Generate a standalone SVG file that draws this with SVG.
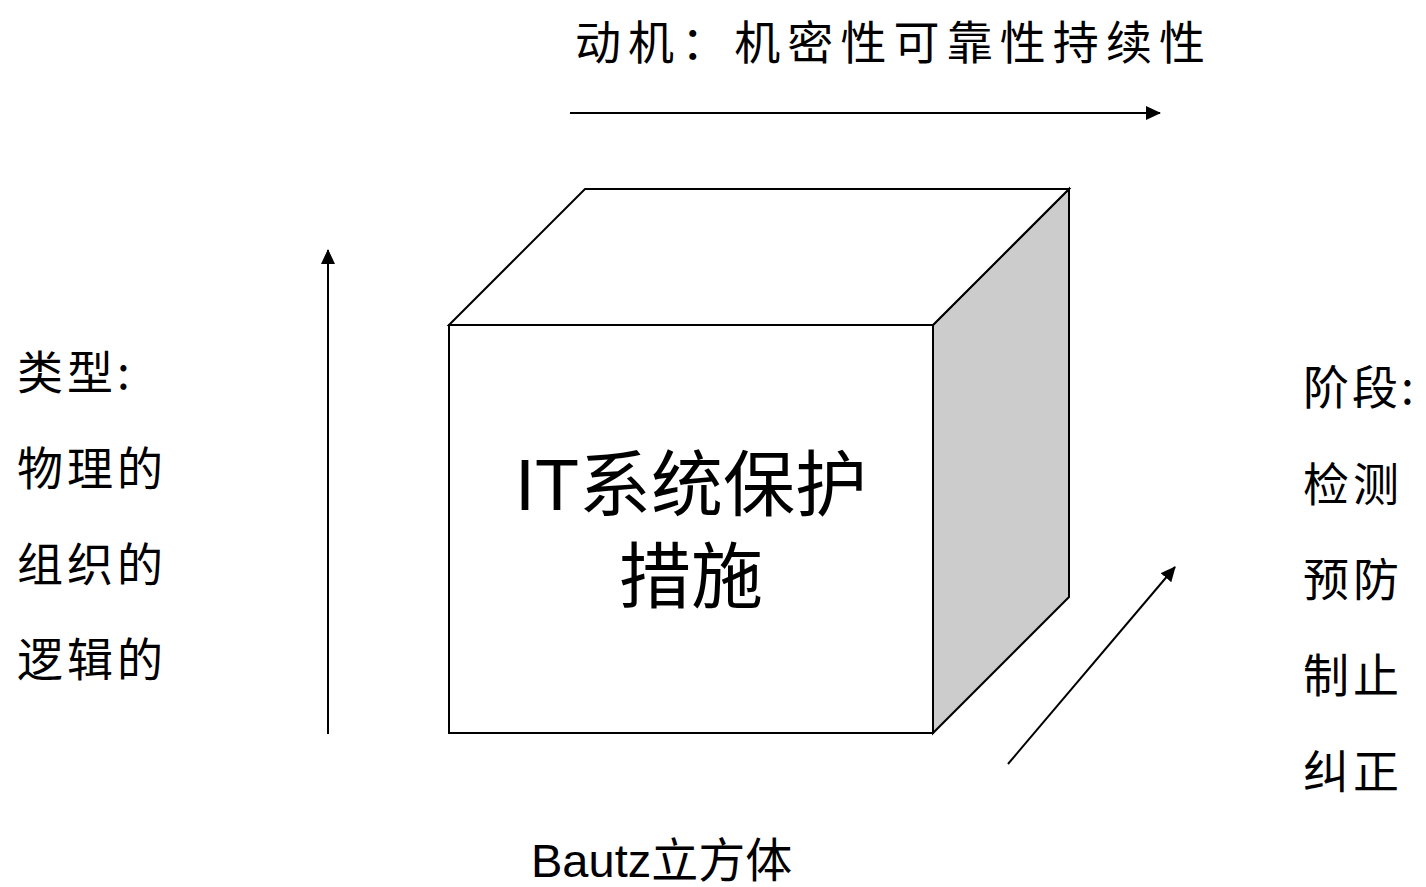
<svg xmlns="http://www.w3.org/2000/svg" width="1426" height="887" viewBox="0 0 1426 887">
<style>
.cjk{font-family:"Noto Sans CJK SC","Noto Sans",sans-serif;fill:#000}
.mix{font-family:"Liberation Sans","Noto Sans CJK SC",sans-serif;fill:#000}
.edge{stroke:#000;stroke-width:2;stroke-linejoin:miter}
.conn{stroke:#000;stroke-width:2;fill:none}
</style>
<defs>
<marker id="ah" viewBox="0 0 15 14" refX="14" refY="7" markerWidth="15" markerHeight="14" markerUnits="userSpaceOnUse" orient="auto">
<path d="M0,0 L15,7 L0,14 Z" fill="#000"/>
</marker>
</defs>
<rect width="1426" height="887" fill="#fff"/>
<g id="cube">
<polygon class="edge" points="933,325 1069,189 1069,597 933,733" fill="#cccccc"/>
<polygon class="edge" points="449,325 585,189 1069,189 933,325" fill="#fff"/>
<rect class="edge" x="449" y="325" width="484" height="408" fill="#fff"/>
<text class="mix" x="691" y="510" font-size="72" text-anchor="middle">IT系统保护</text>
<text class="mix" x="691" y="602" font-size="72" text-anchor="middle">措施</text>
</g>
<g id="connectors">
<line class="conn" x1="570" y1="113" x2="1160" y2="113" marker-end="url(#ah)"/>
<line class="conn" x1="328" y1="734" x2="328" y2="250" marker-end="url(#ah)"/>
<line class="conn" x1="1008" y1="764" x2="1175" y2="567" marker-end="url(#ah)"/>
</g>
<g id="motive">
<text class="cjk" x="575" y="59" font-size="46" textLength="630" lengthAdjust="spacing">动机：机密性可靠性持续性</text>
</g>
<g id="types">
<text class="cjk" x="17" y="389" font-size="46" letter-spacing="4">类型:</text>
<text class="cjk" x="17" y="485" font-size="46" letter-spacing="4">物理的</text>
<text class="cjk" x="17" y="581" font-size="46" letter-spacing="4">组织的</text>
<text class="cjk" x="17" y="676" font-size="46" letter-spacing="4">逻辑的</text>
</g>
<g id="phases">
<text class="cjk" x="1303" y="404" font-size="46" letter-spacing="3">阶段:</text>
<text class="cjk" x="1303" y="501" font-size="46" letter-spacing="4">检测</text>
<text class="cjk" x="1303" y="596" font-size="46" letter-spacing="4">预防</text>
<text class="cjk" x="1303" y="692" font-size="46" letter-spacing="4">制止</text>
<text class="cjk" x="1303" y="788" font-size="46" letter-spacing="4">纠正</text>
</g>
<g id="caption">
<text class="mix" x="531" y="877" font-size="47">Bautz立方体</text>
</g>
</svg>
